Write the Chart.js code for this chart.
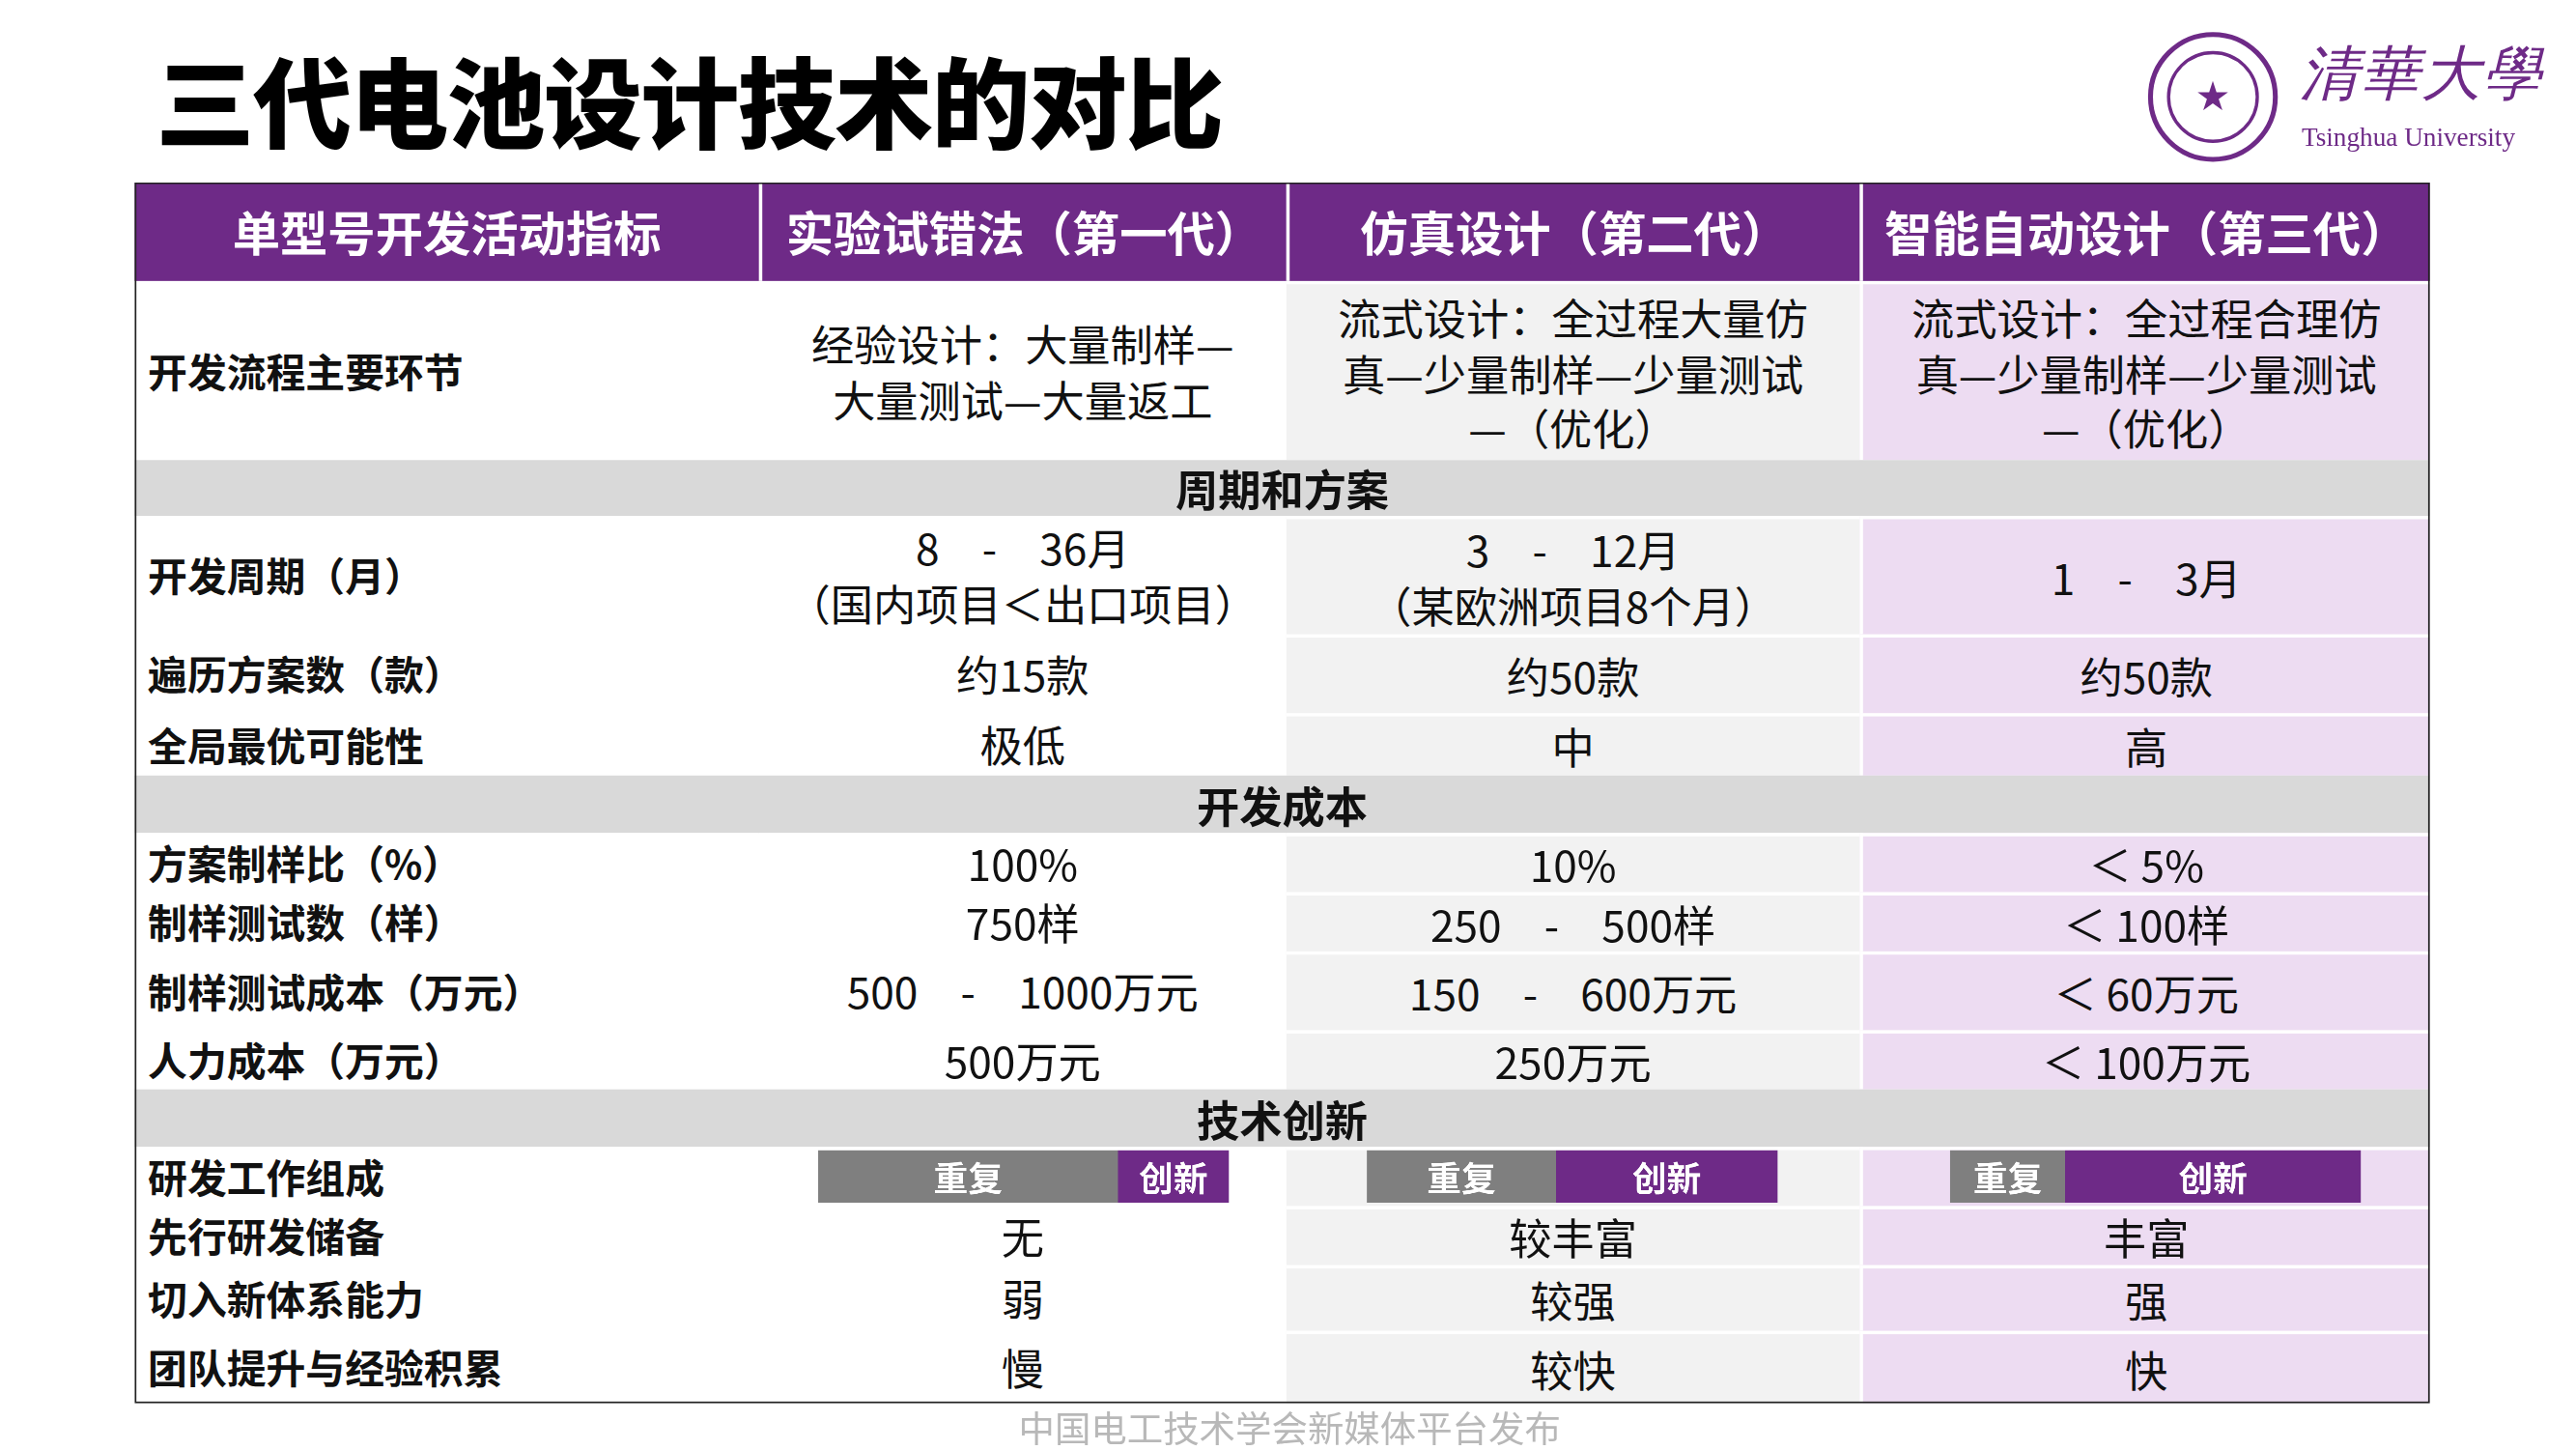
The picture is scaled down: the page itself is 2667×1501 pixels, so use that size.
<!DOCTYPE html>
<html><head><meta charset="utf-8">
<script src="https://cdn.jsdelivr.net/npm/chart.js@4/dist/chart.umd.min.js"></script>
<style>
html,body{margin:0;padding:0;background:#fff;overflow:hidden;width:2667px;height:1501px}
#stage{position:absolute;left:0;top:0;width:1568px;height:882px;transform:scale(1.70089);transform-origin:0 0;font-family:"Noto Sans CJK SC","Noto Sans",sans-serif}
.c{position:absolute;display:flex;align-items:center;box-sizing:border-box;line-height:1.3}
.ctr{justify-content:center;text-align:center}
.lbl{font-weight:700;font-size:24px;padding-left:8px;color:#111}
.val{font-size:26px;color:#111}
.hd{color:#fff;font-weight:700;font-size:29px;justify-content:center;background:#6e2a87}
.sec{background:#d9d9d9;font-weight:700;font-size:26px;justify-content:center;color:#111}
</style></head><body><div id="stage"></div>
<script>
const title="三代电池设计技术的对比";
const headers=["单型号开发活动指标","实验试错法（第一代）","仿真设计（第二代）","智能自动设计（第三代）"];
const rows=[
 ["开发流程主要环节","经验设计：大量制样—<br>大量测试—大量返工","流式设计：全过程大量仿<br>真—少量制样—少量测试<br>—（优化）","流式设计：全过程合理仿<br>真—少量制样—少量测试<br>—（优化）"],
 ["周期和方案"],
 ["开发周期（月）","8　-　36月<br>（国内项目＜出口项目）","3　-　12月<br>（某欧洲项目8个月）","1　-　3月"],
 ["遍历方案数（款）","约15款","约50款","约50款"],
 ["全局最优可能性","极低","中","高"],
 ["开发成本"],
 ["方案制样比（%）","100%","10%","＜ 5%"],
 ["制样测试数（样）","750样","250　-　500样","＜ 100样"],
 ["制样测试成本（万元）","500　-　1000万元","150　-　600万元","＜ 60万元"],
 ["人力成本（万元）","500万元","250万元","＜ 100万元"],
 ["技术创新"],
 ["研发工作组成","","",""],
 ["先行研发储备","无","较丰富","丰富"],
 ["切入新体系能力","弱","较强","强"],
 ["团队提升与经验积累","慢","较快","快"]
];
const barLabels=["重复","创新"];
const repeatShare=[73,46,28];
const innovShare=[27,54,72];
const footer="中国电工技术学会新媒体平台发布";

const colX=[82,462,783,1132,1479];
const rowY=[111,171,280,314,386,434,472,507,543,579,627,663,698,734,770,810,854];
const colBg=["#ffffff","#ffffff","#f2f2f2","#eddcf2"];
const st=document.getElementById('stage');
function add(html,cls,x,y,w,h,extra){const d=document.createElement('div');d.className='c '+cls;d.style.cssText=`left:${x}px;top:${y}px;width:${w}px;height:${h}px;`+(extra||'');d.innerHTML=html;st.appendChild(d);return d;}
add(title,'',95,20,700,80,'font-size:60px;font-weight:900;color:#000;letter-spacing:-1px');
add('<svg width="82" height="82"><circle cx="41" cy="41" r="38" fill="none" stroke="#6e2a87" stroke-width="3"/><circle cx="41" cy="41" r="27" fill="none" stroke="#6e2a87" stroke-width="2"/><text x="41" y="48" font-size="20" text-anchor="middle" fill="#6e2a87">★</text></svg>','',1306,18,82,82);
add('清華大學','',1400,22,150,46,'font-size:36px;color:#6e2a87;font-family:serif;font-style:italic;letter-spacing:1px;white-space:nowrap');
add('Tsinghua University','',1401,70,150,28,'font-size:16px;color:#6e2a87;font-family:"Liberation Serif",serif;white-space:nowrap');
for(let j=0;j<4;j++){add(headers[j],'hd',colX[j],rowY[0],colX[j+1]-colX[j],rowY[1]-rowY[0],j>0?'border-left:2px solid #fff':'');}
for(let i=0;i<rows.length;i++){
  const y=rowY[i+1],h=rowY[i+2]-y,r=rows[i];
  if(r.length===1){add(r[0],'sec',colX[0],y,colX[4]-colX[0],h);continue;}
  add(r[0],'lbl',colX[0],y,colX[1]-colX[0],h,'background:#fff');
  for(let j=1;j<4;j++){add(r[j],'val ctr',colX[j],y,colX[j+1]-colX[j],h,`background:${colBg[j]};`+(j>=2?'border-top:2px solid #fff;':'')+(j==3?'border-left:2px solid #fff;':''));}
}
add('','',colX[0],rowY[0],colX[4]-colX[0],rowY[16]-rowY[0],'border:1.5px solid #222;pointer-events:none');
add(footer,'ctr',500,852,570,32,'font-size:22px;color:#b8b8b8');

const barX=[498,832,1187];
const labelPlugin={id:'lbl',afterDatasetsDraw(ch){const ctx=ch.ctx;ctx.save();ctx.fillStyle='#fff';ctx.font='bold 21px "Noto Sans CJK SC"';ctx.textAlign='center';ctx.textBaseline='middle';
 ch.data.datasets.forEach((ds,di)=>{ch.getDatasetMeta(di).data.forEach(el=>{ctx.fillText(ds.label,(el.x+el.base)/2,el.y+1);});});ctx.restore();}};
for(let k=0;k<3;k++){
  const wrap=add('','',barX[k],699,250,34);
  const cv=document.createElement('canvas');
  cv.width=250;cv.height=34;cv.style.width='250px';cv.style.height='34px';
  wrap.appendChild(cv);
  new Chart(cv,{type:'bar',data:{labels:[''],datasets:[
    {label:barLabels[0],data:[repeatShare[k]],backgroundColor:'#7f7f7f'},
    {label:barLabels[1],data:[innovShare[k]],backgroundColor:'#6e2a87'}]},
   options:{indexAxis:'y',responsive:false,maintainAspectRatio:false,animation:false,devicePixelRatio:4,
    layout:{padding:0},
    scales:{x:{stacked:true,min:0,max:100,display:false},y:{stacked:true,display:false}},
    datasets:{bar:{barPercentage:1,categoryPercentage:0.94,borderWidth:0}},
    plugins:{legend:{display:false},tooltip:{enabled:false}}},plugins:[labelPlugin]});
}
</script></body></html>
